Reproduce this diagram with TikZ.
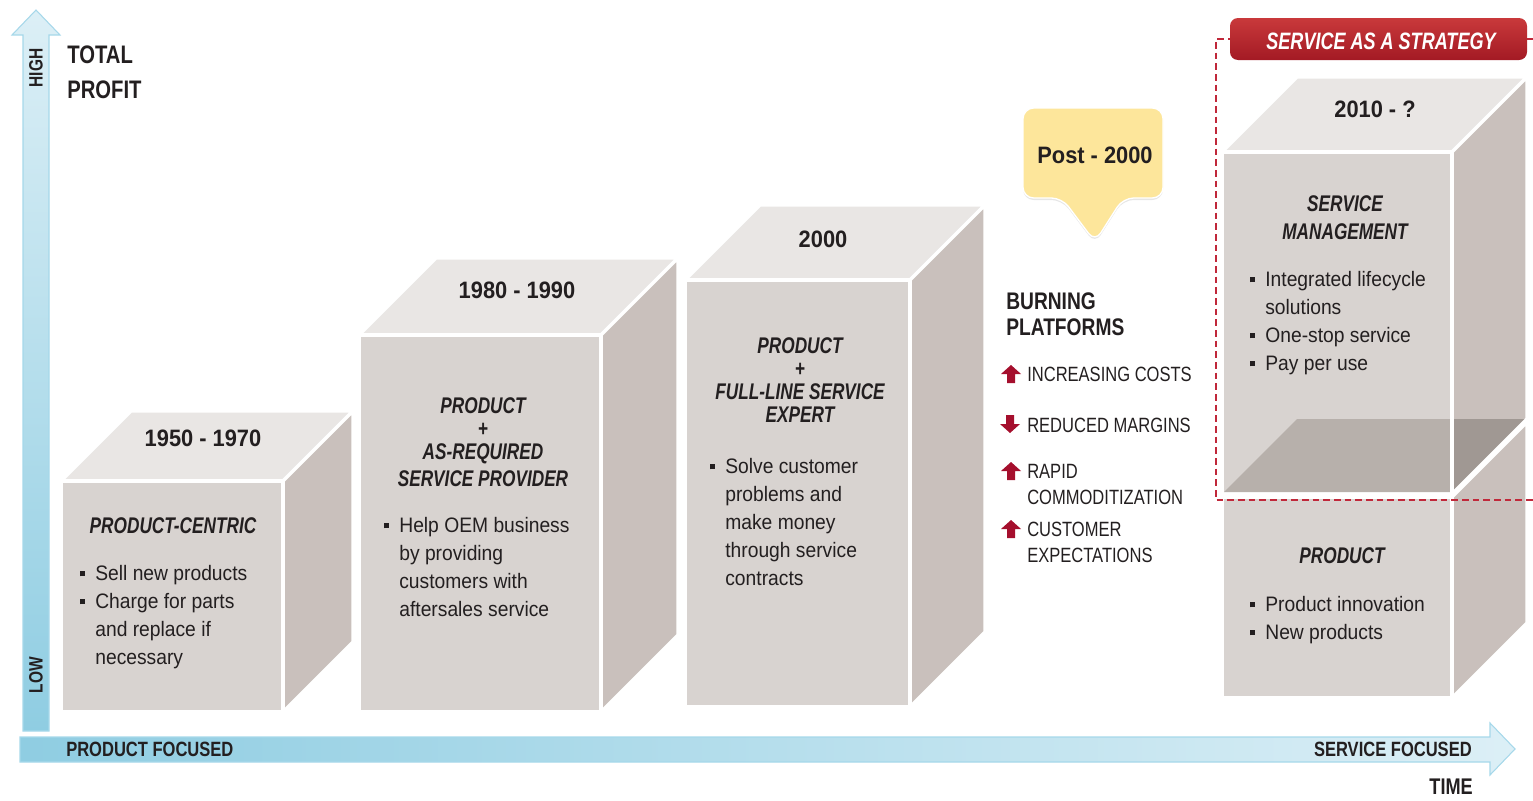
\documentclass[tikz,border=0pt]{standalone}
\usepackage{fontspec}
\setmainfont{Liberation Sans}[FakeStretch=0.92]
\newfontfamily\capsfont{Liberation Sans}[FakeStretch=0.8]
\newfontfamily\headfont{Liberation Sans}[FakeStretch=0.76]
\usetikzlibrary{shadows}

\definecolor{frontgray}{HTML}{D8D3D0}
\definecolor{topgray}{HTML}{E9E6E4}
\definecolor{sidegray}{HTML}{C9C0BC}
\definecolor{floorgray}{HTML}{B7B0AB}
\definecolor{floorside}{HTML}{A09893}
\definecolor{inkblack}{HTML}{231F20}
\definecolor{burgundy}{HTML}{A50F2D}
\definecolor{dashred}{HTML}{C0283A}
\definecolor{bannertop}{HTML}{C9393B}
\definecolor{bannerbot}{HTML}{A31A24}
\definecolor{axisblue}{HTML}{8FCDE2}
\definecolor{axislight}{HTML}{DCEFF6}
\definecolor{axisline}{HTML}{A6D8EA}
\definecolor{calloutyellow}{HTML}{FDE69B}

\newcommand{\bul}{\makebox[0.72em][l]{\rule[0.2em]{0.24em}{0.24em}}}
\newcommand{\ind}{\hspace*{0.72em}}
% front top-left x,y ; front bottom-right x,y ; depth
\newcommand{\drawcube}[5]{%
	\filldraw[cubeedge, fill=topgray] (#1,#2) -- ({#1+#5},{#2-#5}) -- ({#3+#5},{#2-#5}) -- (#3,#2) -- cycle;
	\filldraw[cubeedge, fill=sidegray] (#3,#2) -- ({#3+#5},{#2-#5}) -- ({#3+#5},{#4-#5}) -- (#3,#4) -- cycle;
	\filldraw[cubeedge, fill=frontgray] (#1,#2) rectangle (#3,#4);
}
\newcommand{\riseicon}[1]{\fill[burgundy, shift={(#1)}] (-10,0) -- (0,-9) -- (10,0) -- (4,0) -- (4,9) -- (-4,9) -- (-4,0) -- cycle;}
\newcommand{\fallicon}[1]{\fill[burgundy, shift={(#1)}] (-10,0) -- (0,9) -- (10,0) -- (4,0) -- (4,-9) -- (-4,-9) -- (-4,0) -- cycle;}

\begin{document}
\begin{tikzpicture}[x=0.75pt, y=-0.75pt]
				\tikzstyle{cubeedge}=[draw=white, line width=2.6pt]
				\tikzstyle{body}=[font=\fontsize{15.7}{21}\selectfont, text=inkblack, align=left, anchor=north west, inner sep=0pt]
				\tikzstyle{year}=[font=\fontsize{17.8}{20}\selectfont\bfseries, text=inkblack, inner sep=0pt]
				\tikzstyle{heading}=[font=\headfont\fontsize{17}{17.25}\selectfont\bfseries\itshape, text=inkblack, align=center, inner sep=0pt]
				\tikzstyle{capslbl}=[font=\capsfont\fontsize{15.5}{19.5}\selectfont, text=inkblack, inner sep=0pt]
				\useasboundingbox (0,0) rectangle (1533,800);

				% axes
				\shade[top color=axislight, bottom color=axisblue, draw=axisline, line width=0.8pt] (23,731) -- (23,35) -- (12,35) -- (36,10) -- (60,35) -- (49,35) -- (49,731) -- cycle;
				\shade[left color=axisblue, right color=axislight, draw=axisline, line width=0.8pt] (20,737) -- (1490,737) -- (1490,723) -- (1515,749) -- (1490,775) -- (1490,762) -- (20,762) -- cycle;
				\node[capslbl, font=\capsfont\fontsize{14.5}{14.5}\selectfont\bfseries, rotate=90] (high) at (36,68) {HIGH};
				\node[capslbl, font=\capsfont\fontsize{14.5}{14.5}\selectfont\bfseries, rotate=90] (low) at (36,675) {LOW};
				\node[capslbl, font=\capsfont\fontsize{19}{26}\selectfont\bfseries, align=left, anchor=north west] (profit) at (67,46) {TOTAL\\PROFIT};
				\node[capslbl, font=\capsfont\fontsize{15.5}{15.5}\selectfont\bfseries, anchor=west] (prodfocus) at (66,749) {PRODUCT FOCUSED};
				\node[capslbl, font=\capsfont\fontsize{15.5}{15.5}\selectfont\bfseries, anchor=east] (servfocus) at (1472,749) {SERVICE FOCUSED};
				\node[capslbl, font=\capsfont\fontsize{17}{17}\selectfont\bfseries, anchor=east] (time) at (1473,787) {TIME};

				% 1950 - 1970
				\drawcube{61}{481}{283}{712}{70}
				\node[year] (y1950) at (203,438) {1950 - 1970};
				\node[heading] (centric) at (173,526) {PRODUCT-CENTRIC};
				\node[body] (sell) at (80,565) {\bul Sell new products\\ \bul Charge for parts\\ \ind and replace if\\ \ind necessary};

				% 1980 - 1990
				\drawcube{359}{335}{601}{712}{77}
				\node[year] (y1980) at (517,290) {1980 - 1990};
				\node[heading, anchor=north] (asreq) at (483,397) {PRODUCT\\+\\AS-REQUIRED\\[3pt]SERVICE PROVIDER};
				\node[body] (oem) at (384,517) {\bul Help OEM business\\ \ind by providing\\ \ind customers with\\ \ind aftersales service};

				% 2000
				\drawcube{685}{280}{910}{707}{75}
				\node[year] (y2000) at (823,239) {2000};
				\node[heading, anchor=north] (fullline) at (800,337) {PRODUCT\\+\\FULL-LINE SERVICE\\EXPERT};
				\node[body] (solve) at (710,458) {\bul Solve customer\\ \ind problems and\\ \ind make money\\ \ind through service\\ \ind contracts};

				% post 2000
				\filldraw[fill=calloutyellow, draw=white, line width=1pt, rounded corners=8pt, drop shadow={opacity=0.2, shadow xshift=0pt, shadow yshift=-1.5pt}] (1023,108) -- (1163,108) -- (1163,198) -- (1123,198) -- (1095,242) -- (1062,198) -- (1023,198) -- cycle;
				\node[year] (post) at (1095,155) {Post - 2000};
				\node[capslbl, font=\capsfont\fontsize{18}{20}\selectfont\bfseries, align=left, anchor=north west] (burning) at (1006,292) {BURNING\\PLATFORMS};
				\riseicon{1011,374}
				\node[capslbl, anchor=west] (costs) at (1027,374) {INCREASING COSTS};
				\fallicon{1010,424}
				\node[capslbl, anchor=west] (margins) at (1027,425) {REDUCED MARGINS};
				\riseicon{1011,471}
				\node[capslbl, align=left, anchor=north west] (rapid) at (1027,464) {RAPID\\COMMODITIZATION};
				\riseicon{1011,529}
				\node[capslbl, align=left, anchor=north west] (expect) at (1027,522) {CUSTOMER\\EXPECTATIONS};

				% 2010 - ?
				\drawcube{1222}{497}{1452}{698}{75}
				\drawcube{1222}{152}{1452}{494}{75}
				\fill[floorgray] (1224,492) -- (1297,419) -- (1450,419) -- (1450,492) -- cycle;
				\fill[floorside] (1454,419) -- (1527,419) -- (1454,492) -- cycle;
				\draw[white, line width=2.6pt] (1452,494) -- (1527,419);
				\draw[white, line width=2.6pt] (1452,152) -- (1452,698);
				\draw[dashred, line width=1pt, dash pattern=on 5pt off 3pt] (1533,39) -- (1216,39) -- (1216,500) -- (1533,500);
				\shade[top color=bannertop, bottom color=bannerbot, rounded corners=6pt] (1230,18) rectangle (1527,60);
				\node[heading, text=white, font=\headfont\fontsize{17.8}{18}\selectfont\bfseries\itshape] (strategy) at (1381,41) {SERVICE AS A STRATEGY};
				\node[year] (y2010) at (1375,109) {2010 - ?};
				\node[heading, anchor=north, font=\headfont\fontsize{17}{21}\selectfont\bfseries\itshape] (svcmgmt) at (1345,195) {SERVICE\\MANAGEMENT};
				\node[body] (lifecycle) at (1250,271) {\bul Integrated lifecycle\\ \ind solutions\\ \bul One-stop service\\ \bul Pay per use};
				\node[heading] (product) at (1342,556) {PRODUCT};
				\node[body] (innov) at (1250,596) {\bul Product innovation\\ \bul New products};
			\end{tikzpicture}
\end{document}
